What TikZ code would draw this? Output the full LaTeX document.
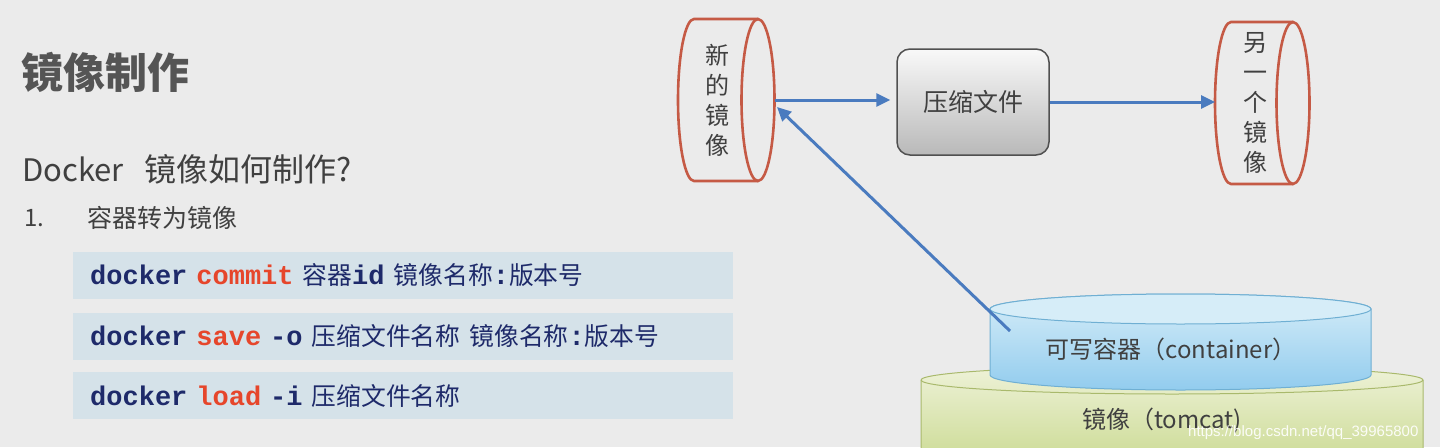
\documentclass[tikz,border=0pt]{standalone}
\usepackage{fontspec}
\setmainfont{Noto Sans CJK SC}
\newfontfamily\cjkfont{Noto Sans CJK SC}
\newfontfamily\codefont{Liberation Mono}
\newfontfamily\webfont{Liberation Sans}
\usepackage{xcolor}
\usepackage{tikz}
\usetikzlibrary{arrows.meta, positioning}

\definecolor{slidebg}{HTML}{EBEBEB}
\definecolor{titlegray}{HTML}{555555}
\definecolor{textgray}{HTML}{404040}
\definecolor{codebg}{HTML}{D5E2E9}
\definecolor{codenavy}{HTML}{1E2A6A}
\definecolor{kwred}{HTML}{E6462B}
\definecolor{flowblue}{HTML}{4A7BBF}
\definecolor{imgred}{HTML}{C55A45}
\definecolor{zipedge}{HTML}{505050}
\definecolor{rwedge}{HTML}{6FAFD3}
\definecolor{rwtop}{HTML}{D6EDF8}
\definecolor{rwbottom}{HTML}{92CCEE}
\definecolor{baseedge}{HTML}{A9B96C}
\definecolor{basetop}{HTML}{EEF2D8}
\definecolor{basebottom}{HTML}{C9D98F}

% CJK part inside a command line
\newcommand{\zh}[1]{{\cjkfont\mdseries\fontsize{24.8}{28}\selectfont #1}}

\begin{document}
\begin{tikzpicture}[x=1pt, y=1pt,
    >={Triangle[length=14pt, width=13pt]},
    flow/.style={->, line width=3pt, color=flowblue},
    cmdbox/.style={fill=codebg, anchor=west, minimum width=660pt, minimum height=47pt,
        text width=626pt, inner xsep=17pt, inner ysep=0pt, align=left,
        font=\codefont\bfseries\fontsize{27}{30}\selectfont, text=codenavy},
    imgcyl/.style={draw=imgred, line width=2.6pt},
    vtext/.style={align=center, text=textgray, inner sep=0pt,
        font=\fontsize{24}{30}\selectfont},
    zipbox/.style={draw=zipedge, line width=1.5pt, rounded corners=13pt,
        top color=white!95!gray, bottom color=gray!55,
        minimum width=152pt, minimum height=106pt,
        font=\fontsize{25}{30}\selectfont, text=textgray}]

    % =================================================================
    % 1. BACKGROUND AND FRAME
    % =================================================================
    \useasboundingbox (0,0) rectangle (1440,-447);
    \fill[slidebg] (0,0) rectangle (1440,-447);
    \clip (0,0) rectangle (1440,-447);

    % =================================================================
    % 2. LEFT: TITLE AND COMMANDS
    % =================================================================
    \node[anchor=west, inner sep=0pt, text=titlegray, font=\bfseries\fontsize{42}{48}\selectfont]
        (title) at (21,-72) {镜像制作};
    \node[anchor=west, inner sep=0pt, text=textgray, font=\fontsize{31}{36}\selectfont]
        (question) at (22,-169) {Docker\hspace{21pt}{\fontsize{32}{36}\selectfont 镜像如何制作?}};
    \node[anchor=west, inner sep=0pt, text=textgray, font=\fontsize{24}{30}\selectfont]
        (stepno) at (24,-218) {1.};
    \node[anchor=west, inner sep=0pt, text=textgray, font=\fontsize{25}{30}\selectfont]
        (steptext) at (87,-218) {容器转为镜像};

    % Command boxes
    \node[cmdbox] (cmdcommit) at (73,-275.5)
        {docker \textcolor{kwred}{commit} \zh{容器}id \zh{镜像名称}:\zh{版本号}};
    \node[cmdbox] (cmdsave) at (73,-336)
        {docker \textcolor{kwred}{save} -o \zh{压缩文件名称} \zh{镜像名称}:\zh{版本号}};
    \node[cmdbox] (cmdload) at (73,-395.5)
        {docker \textcolor{kwred}{load} -i \zh{压缩文件名称}};

    % =================================================================
    % 3. RIGHT TOP: NEW IMAGE -> ARCHIVE -> OTHER IMAGE
    % =================================================================
    % New image cylinder
    \draw[imgcyl] (758,-19) -- (694,-19)
        arc[start angle=90, end angle=270, x radius=16, y radius=81] -- (758,-181);
    \draw[imgcyl] (758,-100) ellipse[x radius=16.5, y radius=81];
    \node[vtext] (newimg) at (717,-100) {新\\的\\镜\\像};

    % Other image cylinder
    \draw[imgcyl] (1293,-22) -- (1231,-22)
        arc[start angle=90, end angle=270, x radius=16, y radius=81] -- (1293,-184);
    \draw[imgcyl] (1293,-103) ellipse[x radius=16.5, y radius=81];
    \node[vtext] (otherimg) at (1255,-103) {另\\一\\个\\镜\\像};

    % Archive box
    \node[zipbox] (zip) at (973,-102) {压缩文件};

    \coordinate (newout) at (775,-100);
    \coordinate (newin) at (777,-107);
    \coordinate (otherin) at (1215,-102);

    \draw[flow, shorten >=6pt] (newout) -- (newout -| zip.west);
    \draw[flow] (zip.east) -- (otherin);

    % =================================================================
    % 4. RIGHT BOTTOM: IMAGE LAYER AND WRITABLE CONTAINER
    % =================================================================
    % Image layer (tomcat)
    \draw[draw=baseedge, line width=1pt, top color=basetop, bottom color=basebottom]
        (921,-380) -- (921,-470) -- (1423,-470) -- (1423,-380)
        arc[start angle=0, end angle=180, x radius=251, y radius=14] -- cycle;
    \draw[draw=baseedge, line width=1pt]
        (921,-380) arc[start angle=180, end angle=360, x radius=251, y radius=14];
    \node[inner sep=0pt, text=textgray, font=\fontsize{24}{30}\selectfont]
        (baseimg) at (1162,-421) {镜像（tomcat)};

    % Writable container layer
    \draw[draw=rwedge, line width=1pt, top color=rwtop, bottom color=rwbottom]
        (990,-309) -- (990,-375)
        arc[start angle=180, end angle=360, x radius=190.5, y radius=15] -- (1371,-309)
        arc[start angle=0, end angle=180, x radius=190.5, y radius=15] -- cycle;
    \draw[draw=rwedge, line width=1pt, fill=rwtop]
        (1180.5,-309) ellipse[x radius=190.5, y radius=15];
    \node[inner sep=0pt, text=textgray, font=\fontsize{24}{30}\selectfont]
        (rw) at (1171,-349) {可写容器（container）};

    \coordinate (rwtail) at (1010,-331);
    \draw[flow] (rwtail) -- (newin);

    % Watermark
    \node[anchor=west, inner sep=0pt, text=white, opacity=0.9, font=\webfont\fontsize{15}{18}\selectfont]
        (mark) at (1188,-433) {https://blog.csdn.net/qq\_39965800};

\end{tikzpicture}
\end{document}
